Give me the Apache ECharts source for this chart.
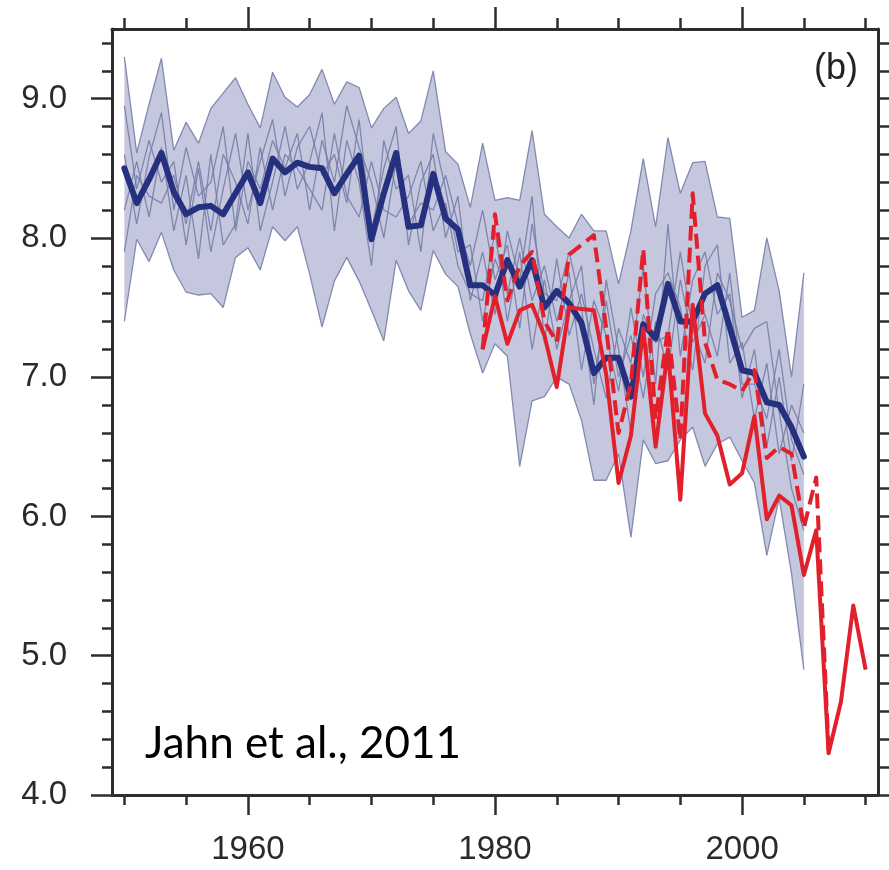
<!DOCTYPE html>
<html>
<head>
<meta charset="utf-8">
<script src="https://cdn.jsdelivr.net/npm/echarts@6/dist/echarts.min.js"></script>
<style>
  html, body { margin: 0; padding: 0; background: #ffffff; }
  #chart { width: 889px; height: 870px; }
</style>
</head>
<body>
<div id="chart"></div>
<script>
// Model ensemble, 1950-2005
const modelStartYear = 1950;
const ensembleMean = [
  8.50, 8.25, 8.42, 8.61, 8.33, 8.17, 8.22, 8.23, 8.17, 8.32,
  8.47, 8.25, 8.57, 8.47, 8.54, 8.51, 8.50, 8.32, 8.46, 8.59,
  7.99, 8.32, 8.61, 8.08, 8.09, 8.46, 8.14, 8.06, 7.66, 7.66,
  7.59, 7.84, 7.65, 7.84, 7.50, 7.62, 7.53, 7.39, 7.03, 7.14,
  7.14, 6.86, 7.38, 7.28, 7.67, 7.40, 7.40, 7.60, 7.66, 7.36,
  7.05, 7.03, 6.82, 6.80, 6.64, 6.43
];
const ensembleMax = [
  9.30, 8.61, 8.96, 9.29, 8.63, 8.83, 8.68, 8.93, 9.04, 9.15,
  8.96, 8.79, 9.19, 9.01, 8.94, 9.03, 9.21, 8.96, 9.12, 9.08,
  8.79, 8.93, 9.01, 8.75, 8.84, 9.20, 8.62, 8.53, 8.22, 8.68,
  8.27, 8.29, 8.27, 8.77, 8.17, 8.08, 8.00, 8.17, 8.05, 8.05,
  7.67, 8.05, 8.57, 8.08, 8.72, 8.32, 8.54, 8.55, 8.15, 8.14,
  7.43, 7.48, 8.00, 7.62, 7.00, 7.75
];
const ensembleMin = [
  7.40, 7.99, 7.83, 8.04, 7.77, 7.61, 7.59, 7.60, 7.50, 7.86,
  7.93, 7.77, 8.08, 7.98, 8.08, 7.74, 7.36, 7.69, 7.86, 7.69,
  7.48, 7.26, 7.84, 7.62, 7.48, 7.91, 7.74, 7.65, 7.31, 7.03,
  7.24, 7.15, 6.36, 6.83, 6.86, 7.00, 6.95, 6.69, 6.26, 6.26,
  6.45, 5.85, 6.55, 6.38, 6.40, 6.55, 6.64, 6.36, 6.52, 6.57,
  6.40, 6.24, 5.72, 6.13, 5.59, 4.90
];
const memberA = [
  8.95, 8.35, 8.70, 8.40, 8.55, 7.95, 8.50, 7.90, 8.35, 8.75,
  8.20, 8.55, 8.85, 8.30, 8.65, 8.80, 8.45, 8.60, 8.25, 8.85,
  8.05, 8.50, 8.80, 7.95, 8.40, 8.60, 8.00, 8.30, 7.55, 7.90,
  7.45, 8.05, 7.70, 8.30, 7.25, 7.85, 7.30, 7.60, 7.20, 6.85,
  7.35, 7.10, 7.80, 6.95, 8.10, 7.15, 7.70, 7.90, 7.45, 7.60,
  6.85, 7.20, 6.50, 7.00, 6.40, 6.95
];
const memberB = [
  8.20, 8.55, 8.15, 8.65, 8.05, 8.45, 7.85, 8.60, 7.95, 8.10,
  8.75, 8.05, 8.40, 8.80, 8.35, 8.55, 8.90, 8.05, 8.70, 8.40,
  7.80, 8.70, 8.35, 8.45, 7.90, 8.75, 8.35, 7.90, 7.95, 7.40,
  7.85, 7.60, 8.00, 7.55, 7.80, 7.40, 7.75, 7.05, 7.55, 7.30,
  6.90, 7.50, 7.00, 7.60, 7.75, 7.50, 7.05, 7.80, 7.95, 7.10,
  7.25, 6.70, 7.10, 6.45, 6.80, 6.60
];
const memberC = [
  8.60, 8.10, 8.58, 8.90, 8.20, 8.65, 8.30, 8.40, 8.80, 8.05,
  8.55, 8.35, 8.70, 8.50, 8.75, 8.20, 8.70, 8.40, 8.95, 8.65,
  8.40, 8.00, 8.55, 8.10, 8.25, 8.20, 8.45, 8.10, 7.80, 8.20,
  7.70, 7.95, 7.35, 8.10, 7.60, 7.55, 7.90, 7.50, 6.80, 7.70,
  7.20, 6.60, 7.45, 7.25, 7.30, 7.90, 7.35, 7.10, 7.75, 7.55,
  7.20, 7.35, 7.40, 6.75, 6.20, 5.90
];
const memberD = [
  7.90, 8.45, 8.30, 8.25, 8.45, 8.10, 8.55, 8.05, 8.60, 8.40,
  8.10, 8.65, 8.20, 8.60, 8.50, 8.35, 8.20, 8.75, 8.30, 8.15,
  8.55, 8.20, 8.15, 8.30, 8.55, 8.05, 8.25, 7.80, 7.60, 7.55,
  8.05, 7.40, 7.90, 7.20, 7.70, 7.20, 7.55, 7.80, 6.95, 7.55,
  7.00, 7.30, 6.85, 7.40, 7.05, 7.70, 7.25, 7.45, 7.15, 7.75,
  6.95, 6.95, 6.70, 7.20, 6.55, 6.30
];

// Observed records, from 1979
const obsStartYear = 1979;
const obsSolid = [
  7.20, 7.58, 7.24, 7.48, 7.52, 7.30, 6.93, 7.50, 7.49, 7.48,
  7.02, 6.24, 6.58, 7.35, 6.50, 7.20, 6.12, 7.52, 6.74, 6.58,
  6.23, 6.31, 6.72, 5.98, 6.15, 6.08, 5.58, 5.90, 4.30, 4.67,
  5.36, 4.90
];
const obsDashed = [
  7.20, 8.17, 7.55, 7.80, 7.90, 7.40, 7.25, 7.88, 7.95, 8.02,
  7.35, 6.60, 6.95, 7.92, 6.70, 7.35, 6.55, 8.32, 7.25, 6.98,
  6.95, 6.90, 7.05, 6.42, 6.50, 6.45, 5.92, 6.28, 4.32
];

// Axis ticks and labels
const xMajorTicks = [1960, 1980, 2000];
const xMinorTicks = [1950, 1955, 1960, 1965, 1970, 1975, 1980, 1985, 1990, 1995, 2000, 2005, 2010];
const yMajorTicks = [4, 5, 6, 7, 8, 9];
const yMinorTicks = [4.2, 4.4, 4.6, 4.8, 5.2, 5.4, 5.6, 5.8, 6.2, 6.4, 6.6, 6.8,
                     7.2, 7.4, 7.6, 7.8, 8.2, 8.4, 8.6, 8.8, 9.2, 9.4];

const toPairs = (start, vals) => vals.map((v, i) => [start + i, v]);
const spreadRows = ensembleMax.map((v, i) => [modelStartYear + i, v, ensembleMin[i]]);

const AXIS_COLOR = '#2e2e2e';
const X_MIN = 1949, X_MAX = 2011, Y_MIN = 4, Y_MAX = 9.5;

function xAxisDef(position, ticks, len, withLine, withLabels) {
  return {
    type: 'value', min: X_MIN, max: X_MAX, position: position,
    axisLine: { show: withLine, onZero: false, lineStyle: { color: AXIS_COLOR, width: 3 } },
    axisTick: { show: true, inside: false, length: len, customValues: ticks,
                lineStyle: { color: AXIS_COLOR, width: 2.5 } },
    axisLabel: withLabels ? {
      show: true, customValues: ticks, margin: 38, fontSize: 33,
      fontFamily: 'Liberation Sans', color: '#2a2a2a', formatter: v => String(v)
    } : { show: false },
    splitLine: { show: false }
  };
}
function yAxisDef(position, ticks, len, withLine, withLabels) {
  return {
    type: 'value', min: Y_MIN, max: Y_MAX, position: position,
    axisLine: { show: withLine, onZero: false, lineStyle: { color: AXIS_COLOR, width: 3 } },
    axisTick: { show: true, inside: false, length: len, customValues: ticks,
                lineStyle: { color: AXIS_COLOR, width: 2.5 } },
    axisLabel: withLabels ? {
      show: true, customValues: ticks, margin: 45, fontSize: 33,
      fontFamily: 'Liberation Sans', color: '#2a2a2a', formatter: v => v.toFixed(1)
    } : { show: false },
    splitLine: { show: false }
  };
}

const MEMBER_COLOR = '#727aa4';
const memberLine = (name, vals) => ({
  name: name, type: 'line', data: toPairs(modelStartYear, vals),
  symbol: 'none', silent: true,
  lineStyle: { color: MEMBER_COLOR, width: 1.3, opacity: 0.85 }
});

// Shaded ensemble spread: one polygon along the upper bound and back along the lower bound
function renderSpread(params, api) {
  if (params.dataIndex !== 0) return;
  const upper = spreadRows.map(r => api.coord([r[0], r[1]]));
  const lower = spreadRows.map(r => api.coord([r[0], r[2]])).reverse();
  return {
    type: 'polygon',
    shape: { points: upper.concat(lower) },
    style: { fill: '#c5c7df', stroke: null }
  };
}

const chart = echarts.init(document.getElementById('chart'), null, { renderer: 'canvas' });
chart.setOption({
  animation: false,
  backgroundColor: '#ffffff',
  grid: { left: 112, right: 11, top: 29, bottom: 75, containLabel: false, outerBoundsMode: 'none' },
  xAxis: [
    xAxisDef('bottom', xMajorTicks, 20, true, true),
    xAxisDef('bottom', xMinorTicks, 10, false, false),
    xAxisDef('top', xMajorTicks, 22, true, false),
    xAxisDef('top', xMinorTicks, 11, false, false)
  ],
  yAxis: [
    yAxisDef('left', yMajorTicks, 21, true, true),
    yAxisDef('left', yMinorTicks, 10, false, false),
    yAxisDef('right', yMajorTicks, 20, true, false),
    yAxisDef('right', yMinorTicks, 11, false, false)
  ],
  series: [
    {
      name: 'spread', type: 'custom', data: spreadRows, silent: true,
      encode: { x: 0, y: [1, 2] }, renderItem: renderSpread, z: 1
    },
    memberLine('member A', memberA),
    memberLine('member B', memberB),
    memberLine('member C', memberC),
    memberLine('member D', memberD),
    memberLine('upper bound', ensembleMax),
    memberLine('lower bound', ensembleMin),
    {
      name: 'ensemble mean', type: 'line', data: toPairs(modelStartYear, ensembleMean),
      symbol: 'none', lineStyle: { color: '#25307e', width: 6, join: 'round', cap: 'round' }
    },
    {
      name: 'observed', type: 'line', data: toPairs(obsStartYear, obsSolid),
      symbol: 'none', lineStyle: { color: '#e2202b', width: 4, join: 'round' }
    },
    {
      name: 'observed (alt)', type: 'line', data: toPairs(obsStartYear, obsDashed),
      symbol: 'none', lineStyle: { color: '#e2202b', width: 4, type: [15, 7], join: 'round' }
    }
  ],
  graphic: [
    {
      type: 'text', x: 836, y: 69,
      style: { text: '(b)', fontSize: 36, fontFamily: 'Liberation Sans', fill: '#222',
               align: 'center', verticalAlign: 'middle' }
    },
    {
      type: 'text', x: 145, y: 744,
      style: { text: 'Jahn et al., 2011', fontSize: 44, fontFamily: 'Lato', fill: '#000',
               align: 'left', verticalAlign: 'middle' }
    }
  ]
});
</script>
</body>
</html>
